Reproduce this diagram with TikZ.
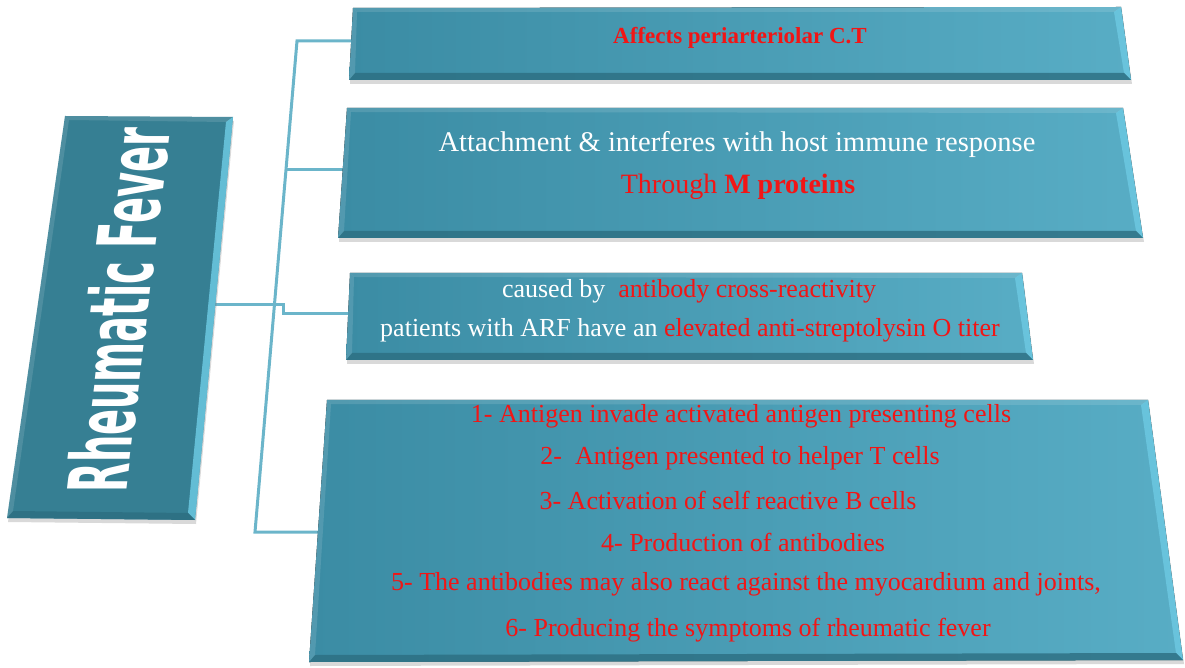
\documentclass[tikz,border=0pt]{standalone}
\usepackage{fontspec}
\setmainfont{Liberation Serif}
\newfontfamily\titlefont{DejaVu Sans}
\usepackage{xcolor}
\usepackage{graphicx}
\usepackage{tikz}
\usetikzlibrary{shadows, calc}

\definecolor{boxleft}{HTML}{3B8CA4}
\definecolor{boxright}{HTML}{58ADC5}
\definecolor{boxdark}{HTML}{367F93}
\definecolor{bevellight}{HTML}{6CC8E1}
\definecolor{beveldark}{HTML}{2C6E81}
\definecolor{linkblue}{HTML}{6BB5CA}
\definecolor{txtred}{HTML}{F21515}

\tikzstyle{panel} = [left color=boxleft, 
right color=boxright, 
drop shadow={shadow xshift=1pt, shadow yshift=-4pt, opacity=0.3}]
\tikzstyle{titlepanel} = [fill=boxdark, 
drop shadow={shadow xshift=1pt, shadow yshift=-4pt, opacity=0.3}]
\tikzstyle{link} = [draw=linkblue, line width=3pt]
\tikzstyle{redline} = [text=txtred, font=\fontsize{26}{30}\selectfont]
\tikzstyle{whiteline} = [text=white, font=\fontsize{26}{30}\selectfont]

% bevelled edges of a panel, corners named <p>tl, <p>tr, <p>br, <p>bl
\newcommand{\bevelpanel}[2]{%
  \fill[#2] (#1tl) -- (#1tr) -- (#1br) -- (#1bl) -- cycle;
  \fill[bevellight, opacity=0.85] (#1tr) -- (#1br) -- ($(#1br)+(-7,7)$) -- ($(#1tr)+(-7,-5)$) -- cycle;
  \fill[beveldark, opacity=0.8] (#1bl) -- (#1br) -- ($(#1br)+(-7,7)$) -- ($(#1bl)+(6,7)$) -- cycle;
  \fill[white, opacity=0.12] (#1tl) -- (#1bl) -- ($(#1bl)+(6,7)$) -- ($(#1tl)+(4,-4)$) -- cycle;
  \fill[white, opacity=0.12] (#1tl) -- (#1tr) -- ($(#1tr)+(-7,-5)$) -- ($(#1tl)+(4,-4)$) -- cycle;
}

\begin{document}
\begin{tikzpicture}[x=1pt, y=1pt]
\useasboundingbox (0,0) rectangle (1185,667);

% panel corners
\coordinate (mtl) at (65,551);   \coordinate (mtr) at (233,550);
\coordinate (mbr) at (195,147);  \coordinate (mbl) at (7,149);
\coordinate (atl) at (353,659);  \coordinate (atr) at (1121,660);
\coordinate (abr) at (1131,587); \coordinate (abl) at (349,587);
\coordinate (btl) at (347,559);  \coordinate (btr) at (1123,559);
\coordinate (bbr) at (1143,429); \coordinate (bbl) at (338,429);
\coordinate (ctl) at (350,394);  \coordinate (ctr) at (1022,394);
\coordinate (cbr) at (1033,307); \coordinate (cbl) at (346,307);
\coordinate (dtl) at (327,267);  \coordinate (dtr) at (1148,267);
\coordinate (dbr) at (1183,7);   \coordinate (dbl) at (309,5);

% connector points
\coordinate (trunktop) at (297,626);
\coordinate (trunkbot) at (255,135);
\coordinate (trunkmid) at (286,497);
\coordinate (ain) at (351,626);
\coordinate (bin) at (343,497);
\coordinate (mout) at (215,362);
\coordinate (jogup) at (283,362);
\coordinate (jogdown) at (283,353);
\coordinate (cin) at (348,353);
\coordinate (din) at (318,135);

% connectors
\draw[link] (ain) -- (trunktop) -- (trunkbot) -- (din);
\draw[link] (trunkmid) -- (bin);
\draw[link] (mout) -- (jogup) -- (jogdown) -- (cin);

% panels
\bevelpanel{m}{titlepanel}
\bevelpanel{a}{panel}
\bevelpanel{b}{panel}
\bevelpanel{c}{panel}
\bevelpanel{d}{panel}

% title
\begin{scope}[shift={(118,357)}, xslant=0.121]
\node (title) [rotate=90, transform shape, text=white, inner sep=0pt] 
{\resizebox{365pt}{62pt}{\titlefont\bfseries Rheumatic Fever}};
\end{scope}

% panel texts
\node (affects) at (740,629) [text=txtred, font=\bfseries\fontsize{23}{26}\selectfont] 
{Affects periarteriolar C.T};

\node (attach) at (737,522) [whiteline, font=\fontsize{28.5}{32}\selectfont] 
{Attachment \& interferes with host immune response};
\node (through) at (738,480) [redline, font=\fontsize{28}{32}\selectfont] 
{Through \textbf{M proteins}};

\node (caused) at (689,376) [whiteline] 
{caused by \ \textcolor{txtred}{antibody cross-reactivity}};
\node (patients) at (690,337) [whiteline] 
{patients with ARF have an \textcolor{txtred}{elevated anti-streptolysin O titer}};

\node (step1) at (741,251) [redline] {1- Antigen invade activated antigen presenting cells};
\node (step2) at (740,209) [redline] {2- \ Antigen presented to helper T cells};
\node (step3) at (728,167) [redline] {3- Activation of self reactive B cells};
\node (step4) at (743,125) [redline] {4- Production of antibodies};
\node (step5) at (746,83) [redline] {5- The antibodies may also react against the myocardium and joints,};
\node (step6) at (748,37) [redline] {6- Producing the symptoms of rheumatic fever};

\end{tikzpicture}
\end{document}
